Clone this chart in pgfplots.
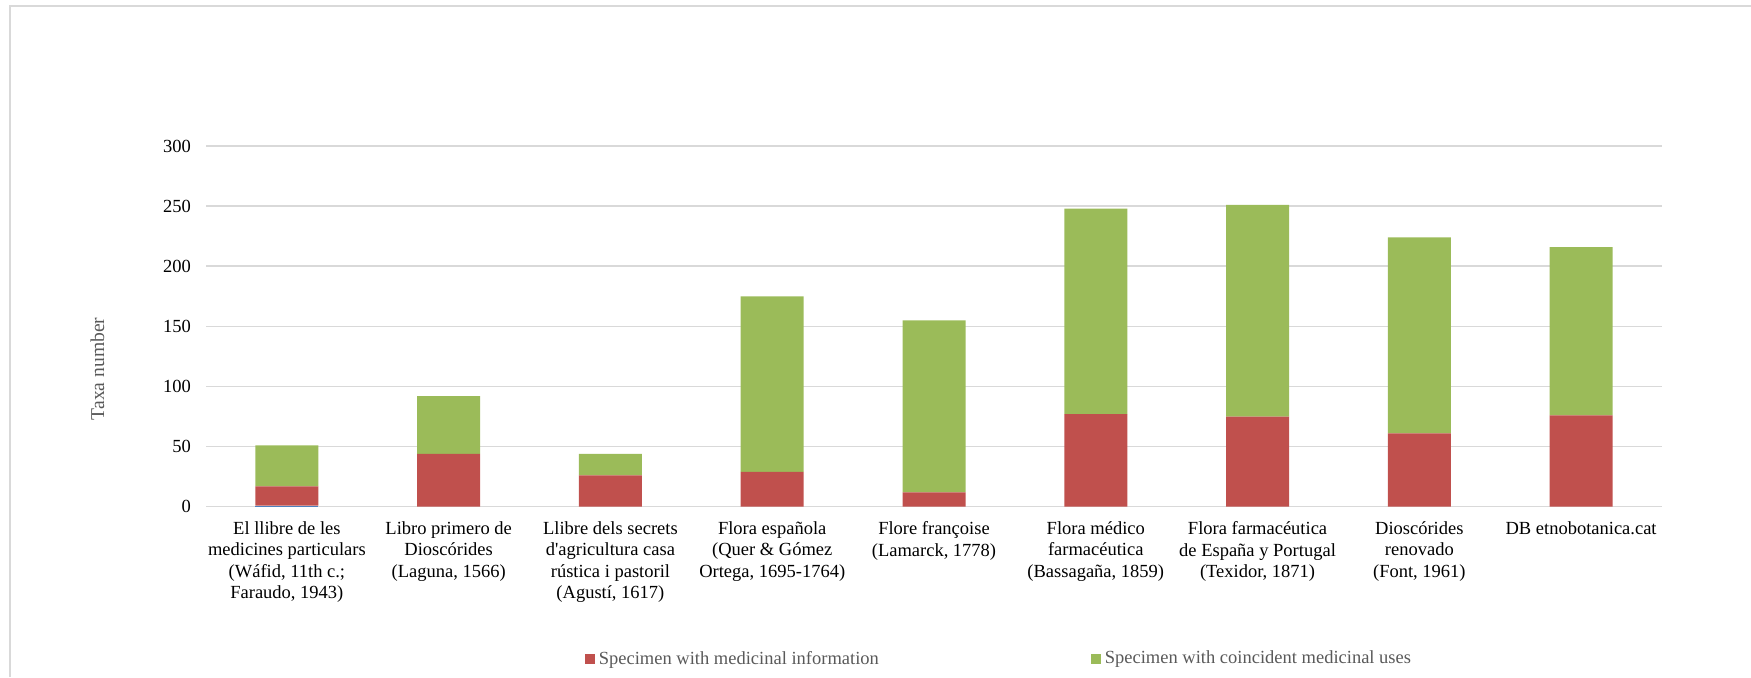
\documentclass[border=0pt]{standalone}
\usepackage{fontspec}
\setmainfont{Liberation Serif}
\usepackage{pgfplots}
\pgfplotsset{compat=1.18}
\definecolor{barblue}{HTML}{4F81BD}
\definecolor{barred}{HTML}{C0504D}
\definecolor{bargreen}{HTML}{9BBB59}
\definecolor{gridgray}{HTML}{D9D9D9}
\definecolor{textgray}{HTML}{595959}

\begin{document}
\begin{tikzpicture}[x=1pt,y=1pt]
\useasboundingbox (0,0) rectangle (875.5,338.5);
% chart frame
\draw[gridgray, line width=1pt] (5,0) -- (5,335.5) -- (875.5,335.5);
\begin{axis}[
  at={(103pt,85.15pt)}, anchor=south west,
  scale only axis, width=728pt, height=180.35pt,
  ybar stacked, bar width=31.5pt,
  xmin=-0.5, xmax=8.5, ymin=0, ymax=300,
  ytick={0,50,...,300},
  xtick={0,...,8},
  xticklabels={
    {El llibre de les\\medicines particulars\\(Wáfid, 11th c.;\\Faraudo, 1943)},
    {Libro primero de\\Dioscórides\\(Laguna, 1566)},
    {Llibre dels secrets\\d\textquotesingle agricultura casa\\rústica i pastoril\\(Agustí, 1617)},
    {Flora española\\(Quer \& Gómez\\Ortega, 1695-1764)},
    {Flore françoise\\(Lamarck, 1778)},
    {Flora médico\\farmacéutica\\(Bassagaña, 1859)},
    {Flora farmacéutica\\de España y Portugal\\(Texidor, 1871)},
    {Dioscórides\\renovado\\(Font, 1961)},
    {DB etnobotanica.cat}},
  axis line style={draw=none},
  tick style={draw=none},
  ymajorgrids, grid style={gridgray, line width=0.75pt},
  font=\fontsize{9.25}{10.6}\selectfont,
  /pgf/number format/assume math mode=true,
  yticklabel style={black, xshift=-4pt},
  xticklabel style={black, align=center, anchor=north, yshift=-4pt},
  ylabel={Taxa number},
  ylabel style={at={(axis description cs:-0.0745,0.382)}, anchor=center, rotate=0,
    textgray, font=\fontsize{9.8}{11}\selectfont},
  legend columns=2,
  legend style={draw=none, fill=none, at={(axis description cs:0.5453,-0.4222)}, anchor=center,
    font=\fontsize{9.25}{10.6}\selectfont, text=textgray,
    /tikz/every even column/.append style={column sep=104pt}},
  legend image code/.code={\fill[#1] (0pt,-2.5pt) rectangle (5pt,2.5pt);},
]
\addplot+[forget plot, fill=barblue, draw=none] coordinates {(0,1) (1,0) (2,0) (3,0) (4,0) (5,0) (6,0) (7,0) (8,0)};
\addplot+[fill=barred, draw=none] coordinates {(0,16) (1,44) (2,26) (3,29) (4,12) (5,77) (6,75) (7,61) (8,76)};
\addlegendentry{Specimen with medicinal information}
\addplot+[fill=bargreen, draw=none] coordinates {(0,34) (1,48) (2,18) (3,146) (4,143) (5,171) (6,176) (7,163) (8,140)};
\addlegendentry{Specimen with coincident medicinal uses}
\end{axis}
\end{tikzpicture}
\end{document}
